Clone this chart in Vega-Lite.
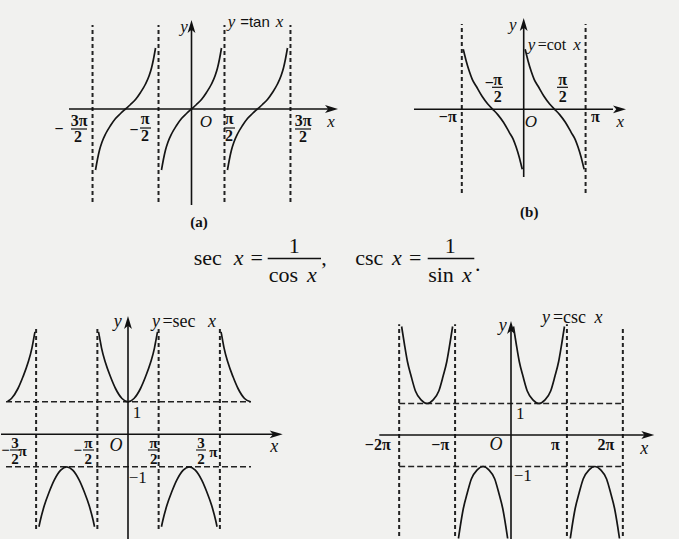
{
"$schema": "https://vega.github.io/schema/vega-lite/v6.json",
"background": "#f1f1ef",
"padding": 0,
"spacing": 0,
"config": {"view": {"stroke": null}},
"datasets": {
"a_seg": [
{"x":-5.833,"y":0,"x2":6.69,"y2":0,"k":"axis"},
{"x":0,"y":-7.385,"x2":0,"y2":6.385,"k":"axis"},
{"x":-4.7124,"y":-7.154,"x2":-4.7124,"y2":6.462,"k":"guide"},
{"x":-1.5708,"y":-7.154,"x2":-1.5708,"y2":6.462,"k":"guide"},
{"x":1.5708,"y":-7.154,"x2":1.5708,"y2":6.462,"k":"guide"},
{"x":4.7124,"y":-7.154,"x2":4.7124,"y2":6.462,"k":"guide"},
{"x":-5.738,"y":-1.538,"x2":-4.976,"y2":-1.538,"k":"frac"},
{"x":-2.452,"y":-1.462,"x2":-1.929,"y2":-1.462,"k":"frac"},
{"x":1.548,"y":-1.462,"x2":2.071,"y2":-1.462,"k":"frac"},
{"x":4.929,"y":-1.538,"x2":5.690,"y2":-1.538,"k":"frac"}
],
"a_arrow": [{"x":6.667,"y":0,"dir":"right"},{"x":0,"y":6.346,"dir":"up"}],
"a_curve": [
{"b":"C","x":-1.4286,"y":-4.6923},{"b":"C","x":-1.3333,"y":-3.8462},{"b":"C","x":-1.2381,"y":-3.1538},{"b":"C","x":-1.1190,"y":-2.5385},{"b":"C","x":-0.9524,"y":-1.9231},{"b":"C","x":-0.7143,"y":-1.2692},{"b":"C","x":-0.4762,"y":-0.7308},{"b":"C","x":-0.2381,"y":-0.3462},{"b":"C","x":0,"y":0},{"b":"C","x":0.2381,"y":0.3462},{"b":"C","x":0.4762,"y":0.7308},{"b":"C","x":0.7143,"y":1.2692},{"b":"C","x":0.9524,"y":1.9231},{"b":"C","x":1.1190,"y":2.5385},{"b":"C","x":1.2381,"y":3.1538},{"b":"C","x":1.3333,"y":3.8462},{"b":"C","x":1.4286,"y":4.6923},
{"b":"L","x":-4.5702,"y":-4.6923},{"b":"L","x":-4.4749,"y":-3.8462},{"b":"L","x":-4.3797,"y":-3.1538},{"b":"L","x":-4.2606,"y":-2.5385},{"b":"L","x":-4.0940,"y":-1.9231},{"b":"L","x":-3.8559,"y":-1.2692},{"b":"L","x":-3.6178,"y":-0.7308},{"b":"L","x":-3.3797,"y":-0.3462},{"b":"L","x":-3.1416,"y":0},{"b":"L","x":-2.9035,"y":0.3462},{"b":"L","x":-2.6654,"y":0.7308},{"b":"L","x":-2.4273,"y":1.2692},{"b":"L","x":-2.1892,"y":1.9231},{"b":"L","x":-2.0226,"y":2.5385},{"b":"L","x":-1.9035,"y":3.1538},{"b":"L","x":-1.8083,"y":3.8462},{"b":"L","x":-1.7130,"y":4.6923},
{"b":"R","x":1.7130,"y":-4.6923},{"b":"R","x":1.8083,"y":-3.8462},{"b":"R","x":1.9035,"y":-3.1538},{"b":"R","x":2.0226,"y":-2.5385},{"b":"R","x":2.1892,"y":-1.9231},{"b":"R","x":2.4273,"y":-1.2692},{"b":"R","x":2.6654,"y":-0.7308},{"b":"R","x":2.9035,"y":-0.3462},{"b":"R","x":3.1416,"y":0},{"b":"R","x":3.3797,"y":0.3462},{"b":"R","x":3.6178,"y":0.7308},{"b":"R","x":3.8559,"y":1.2692},{"b":"R","x":4.0940,"y":1.9231},{"b":"R","x":4.2606,"y":2.5385},{"b":"R","x":4.3797,"y":3.1538},{"b":"R","x":4.4749,"y":3.8462},{"b":"R","x":4.5702,"y":4.6923}
],
"a_text": [
{"role":"var","t":"y","x":-0.357,"y":6.308},
{"role":"var","t":"O","x":0.690,"y":-1.0},
{"role":"var","t":"x","x":6.643,"y":-1.0},
{"role":"var","t":"y","x":1.905,"y":6.692},
{"role":"var","t":"x","x":4.190,"y":6.692},
{"role":"fn","t":"=tan","x":3.024,"y":6.692},
{"role":"tick","t":"−","x":-6.310,"y":-1.538},
{"role":"tick","t":"3π","x":-5.357,"y":-0.923},
{"role":"tick","t":"2","x":-5.405,"y":-2.154},
{"role":"tick","t":"−","x":-2.738,"y":-1.615},
{"role":"tick","t":"π","x":-2.214,"y":-0.769},
{"role":"tick","t":"2","x":-2.214,"y":-2.077},
{"role":"tick","t":"π","x":1.786,"y":-0.769},
{"role":"tick","t":"2","x":1.786,"y":-2.077},
{"role":"tick","t":"3π","x":5.310,"y":-0.923},
{"role":"tick","t":"2","x":5.310,"y":-2.154},
{"role":"cap","t":"(a)","x":0.357,"y":-8.692}
],
"b_seg": [
{"x":-5.569,"y":0,"x2":4.533,"y2":0,"k":"axis"},
{"x":0,"y":-5.642,"x2":0,"y2":7.025,"k":"axis"},
{"x":-3.1416,"y":-6.975,"x2":-3.1416,"y2":7.108,"k":"guide"},
{"x":3.1416,"y":-6.975,"x2":3.1416,"y2":7.108,"k":"guide"},
{"x":-1.609,"y":1.833,"x2":-1.051,"y2":1.833,"k":"frac"},
{"x":1.690,"y":1.833,"x2":2.249,"y2":1.833,"k":"frac"}
],
"b_arrow": [{"x":4.863,"y":0,"dir":"right"},{"x":0,"y":7.067,"dir":"up"}],
"b_curve": [
{"b":"R","x":0.0733,"y":5.0},{"b":"R","x":0.1241,"y":4.6667},{"b":"R","x":0.2256,"y":4.0},{"b":"R","x":0.3881,"y":3.125},{"b":"R","x":0.5302,"y":2.5},{"b":"R","x":0.7332,"y":1.9167},{"b":"R","x":1.0277,"y":1.0833},{"b":"R","x":1.3170,"y":0.4417},{"b":"R","x":1.5708,"y":0},{"b":"R","x":1.8246,"y":-0.4417},{"b":"R","x":2.1139,"y":-1.0833},{"b":"R","x":2.4084,"y":-1.9167},{"b":"R","x":2.6114,"y":-2.5},{"b":"R","x":2.7535,"y":-3.125},{"b":"R","x":2.9160,"y":-4.0},{"b":"R","x":3.0175,"y":-4.6667},{"b":"R","x":3.0683,"y":-5.0},
{"b":"L","x":-3.0683,"y":5.0},{"b":"L","x":-3.0175,"y":4.6667},{"b":"L","x":-2.9160,"y":4.0},{"b":"L","x":-2.7535,"y":3.125},{"b":"L","x":-2.6114,"y":2.5},{"b":"L","x":-2.4084,"y":1.9167},{"b":"L","x":-2.1139,"y":1.0833},{"b":"L","x":-1.8246,"y":0.4417},{"b":"L","x":-1.5708,"y":0},{"b":"L","x":-1.3170,"y":-0.4417},{"b":"L","x":-1.0277,"y":-1.0833},{"b":"L","x":-0.7332,"y":-1.9167},{"b":"L","x":-0.5302,"y":-2.5},{"b":"L","x":-0.3881,"y":-3.125},{"b":"L","x":-0.2256,"y":-4.0},{"b":"L","x":-0.1241,"y":-4.6667},{"b":"L","x":-0.0733,"y":-5.0}
],
"b_text": [
{"role":"var","t":"y","x":-0.558,"y":7.025},
{"role":"var","t":"O","x":0.371,"y":-1.033},
{"role":"var","t":"x","x":4.904,"y":-1.033},
{"role":"var","t":"y","x":0.396,"y":5.358},
{"role":"var","t":"x","x":2.706,"y":5.358},
{"role":"fn","t":"=cot","x":1.437,"y":5.358},
{"role":"tick","t":"−","x":-1.746,"y":2.167},
{"role":"tick","t":"π","x":-1.320,"y":2.442},
{"role":"tick","t":"2","x":-1.320,"y":1.05},
{"role":"tick","t":"π","x":1.980,"y":2.442},
{"role":"tick","t":"2","x":1.980,"y":1.05},
{"role":"tick","t":"−π","x":-3.858,"y":-0.667},
{"role":"tick","t":"π","x":3.635,"y":-0.617},
{"role":"cap","t":"(b)","x":0.284,"y":-8.558}
],
"f_seg": [
{"x":266.7,"y":252.5,"x2":320,"y2":252.5},
{"x":426.7,"y":252.5,"x2":473.3,"y2":252.5}
],
"f_text": [
{"role":"rm","t":"sec","x":206.7,"y":258.5},
{"role":"var","t":"x","x":237.5,"y":258.5},
{"role":"rm","t":"=","x":255.8,"y":258.5},
{"role":"rm","t":"1","x":293.3,"y":247},
{"role":"rm","t":"cos","x":282.5,"y":275.5},
{"role":"var","t":"x","x":310.8,"y":275.5},
{"role":"rm","t":",","x":323,"y":259},
{"role":"rm","t":"csc","x":368.3,"y":258.5},
{"role":"var","t":"x","x":395.8,"y":258.5},
{"role":"rm","t":"=","x":414.2,"y":258.5},
{"role":"rm","t":"1","x":449.2,"y":247},
{"role":"rm","t":"sin","x":440,"y":275.5},
{"role":"var","t":"x","x":465.8,"y":275.5},
{"role":"rm","t":".","x":476.7,"y":265}
],
"c_seg": [
{"x":-6.5128,"y":0,"x2":7.641,"y2":0,"k":"axis"},
{"x":0,"y":-3.375,"x2":0,"y2":3.455,"k":"axis"},
{"x":-4.7124,"y":-2.914,"x2":-4.7124,"y2":3.24,"k":"guide"},
{"x":-1.5708,"y":-2.914,"x2":-1.5708,"y2":3.24,"k":"guide"},
{"x":1.5708,"y":-2.914,"x2":1.5708,"y2":3.24,"k":"guide"},
{"x":4.7124,"y":-2.914,"x2":4.7124,"y2":3.24,"k":"guide"},
{"x":-6.256,"y":1,"x2":6.308,"y2":1,"k":"hguide"},
{"x":-6.256,"y":-1,"x2":6.308,"y2":-1,"k":"hguide"},
{"x":-6.051,"y":-0.483,"x2":-5.538,"y2":-0.483,"k":"frac"},
{"x":-2.308,"y":-0.483,"x2":-1.744,"y2":-0.483,"k":"frac"},
{"x":1.026,"y":-0.483,"x2":1.590,"y2":-0.483,"k":"frac"},
{"x":3.487,"y":-0.483,"x2":4.0,"y2":-0.483,"k":"frac"}
],
"c_arrow": [{"x":7.6,"y":0,"dir":"right"},{"x":0,"y":3.44,"dir":"up"}],
"c_curve": [
{"b":"P0","x":-1.5128,"y":3.1538},{"b":"P0","x":-1.4359,"y":2.9077},{"b":"P0","x":-1.3590,"y":2.6615},{"b":"P0","x":-1.1538,"y":2.2},{"b":"P0","x":-0.8974,"y":1.7692},{"b":"P0","x":-0.6410,"y":1.4092},{"b":"P0","x":-0.3077,"y":1.1015},{"b":"P0","x":0,"y":1},{"b":"P0","x":0.3077,"y":1.1015},{"b":"P0","x":0.6410,"y":1.4092},{"b":"P0","x":0.8974,"y":1.7692},{"b":"P0","x":1.1538,"y":2.2},{"b":"P0","x":1.3590,"y":2.6615},{"b":"P0","x":1.4359,"y":2.9077},{"b":"P0","x":1.5128,"y":3.1538},
{"b":"N1","x":-4.5672,"y":-2.8462},{"b":"N1","x":-4.5006,"y":-2.6615},{"b":"N1","x":-4.2954,"y":-2.2},{"b":"N1","x":-4.0390,"y":-1.7692},{"b":"N1","x":-3.7826,"y":-1.4092},{"b":"N1","x":-3.4493,"y":-1.1015},{"b":"N1","x":-3.1416,"y":-1},{"b":"N1","x":-2.8339,"y":-1.1015},{"b":"N1","x":-2.5006,"y":-1.4092},{"b":"N1","x":-2.2442,"y":-1.7692},{"b":"N1","x":-1.9878,"y":-2.2},{"b":"N1","x":-1.7826,"y":-2.6615},{"b":"N1","x":-1.7160,"y":-2.8462},
{"b":"N2","x":1.7160,"y":-2.8462},{"b":"N2","x":1.7826,"y":-2.6615},{"b":"N2","x":1.9878,"y":-2.2},{"b":"N2","x":2.2442,"y":-1.7692},{"b":"N2","x":2.5006,"y":-1.4092},{"b":"N2","x":2.8339,"y":-1.1015},{"b":"N2","x":3.1416,"y":-1},{"b":"N2","x":3.4493,"y":-1.1015},{"b":"N2","x":3.7826,"y":-1.4092},{"b":"N2","x":4.0390,"y":-1.7692},{"b":"N2","x":4.2954,"y":-2.2},{"b":"N2","x":4.5006,"y":-2.6615},{"b":"N2","x":4.5672,"y":-2.8462},
{"b":"PL","x":-6.1702,"y":1.014},{"b":"PL","x":-5.9755,"y":1.1015},{"b":"PL","x":-5.6422,"y":1.4092},{"b":"PL","x":-5.3858,"y":1.7692},{"b":"PL","x":-5.1294,"y":2.2},{"b":"PL","x":-4.9242,"y":2.6615},{"b":"PL","x":-4.8473,"y":2.9077},{"b":"PL","x":-4.7704,"y":3.1538},
{"b":"PR","x":4.7704,"y":3.1538},{"b":"PR","x":4.8473,"y":2.9077},{"b":"PR","x":4.9242,"y":2.6615},{"b":"PR","x":5.1294,"y":2.2},{"b":"PR","x":5.3858,"y":1.7692},{"b":"PR","x":5.6422,"y":1.4092},{"b":"PR","x":5.9755,"y":1.1015},{"b":"PR","x":6.2832,"y":1}
],
"c_text": [
{"role":"var","t":"y","x":-0.528,"y":3.455},
{"role":"var","t":"O","x":-0.615,"y":-0.36},
{"role":"var","t":"x","x":7.503,"y":-0.382},
{"role":"var","t":"y","x":1.436,"y":3.455},
{"role":"var","t":"x","x":4.308,"y":3.455},
{"role":"fn","t":"=sec","x":2.615,"y":3.455},
{"role":"tick","t":"−","x":-6.282,"y":-0.483},
{"role":"tick","t":"3","x":-5.795,"y":-0.258},
{"role":"tick","t":"2","x":-5.795,"y":-0.769},
{"role":"tick","t":"π","x":-5.4,"y":-0.514},
{"role":"tick","t":"−","x":-2.579,"y":-0.483},
{"role":"tick","t":"π","x":-2.036,"y":-0.258},
{"role":"tick","t":"2","x":-2.036,"y":-0.769},
{"role":"tick","t":"π","x":1.318,"y":-0.258},
{"role":"tick","t":"2","x":1.318,"y":-0.769},
{"role":"tick","t":"3","x":3.744,"y":-0.258},
{"role":"tick","t":"2","x":3.744,"y":-0.769},
{"role":"tick","t":"π","x":4.374,"y":-0.545},
{"role":"unit","t":"1","x":0.462,"y":0.665},
{"role":"unit","t":"−1","x":0.497,"y":-1.335}
],
"d_seg": [
{"x":-7.399,"y":0,"x2":7.697,"y2":0,"k":"axis"},
{"x":0,"y":-3.46,"x2":0,"y2":3.429,"k":"axis"},
{"x":-6.2832,"y":-3.429,"x2":-6.2832,"y2":3.514,"k":"guide"},
{"x":-3.1416,"y":-3.429,"x2":-3.1416,"y2":3.514,"k":"guide"},
{"x":3.1416,"y":-3.429,"x2":3.1416,"y2":3.514,"k":"guide"},
{"x":6.2832,"y":-3.429,"x2":6.2832,"y2":3.4,"k":"guide"},
{"x":-6.2832,"y":1,"x2":6.2832,"y2":1,"k":"hguide"},
{"x":-6.2832,"y":-1,"x2":6.2832,"y2":-1,"k":"hguide"}
],
"d_arrow": [{"x":7.685,"y":0,"dir":"right"},{"x":0,"y":3.413,"dir":"up"}],
"d_curve": [
{"b":"U1","x":-6.1450,"y":3.4444},{"b":"U1","x":-5.9933,"y":2.9048},{"b":"U1","x":-5.8191,"y":2.3333},{"b":"U1","x":-5.6057,"y":1.8571},{"b":"U1","x":-5.3697,"y":1.3968},{"b":"U1","x":-5.0382,"y":1.1079},{"b":"U1","x":-4.7124,"y":1},{"b":"U1","x":-4.3866,"y":1.1079},{"b":"U1","x":-4.0551,"y":1.3968},{"b":"U1","x":-3.8191,"y":1.8571},{"b":"U1","x":-3.6057,"y":2.3333},{"b":"U1","x":-3.4315,"y":2.9048},{"b":"U1","x":-3.2798,"y":3.4444},
{"b":"U2","x":0.1382,"y":3.4444},{"b":"U2","x":0.2899,"y":2.9048},{"b":"U2","x":0.4641,"y":2.3333},{"b":"U2","x":0.6775,"y":1.8571},{"b":"U2","x":0.9135,"y":1.3968},{"b":"U2","x":1.2450,"y":1.1079},{"b":"U2","x":1.5708,"y":1},{"b":"U2","x":1.8966,"y":1.1079},{"b":"U2","x":2.2281,"y":1.3968},{"b":"U2","x":2.4641,"y":1.8571},{"b":"U2","x":2.6775,"y":2.3333},{"b":"U2","x":2.8517,"y":2.9048},{"b":"U2","x":3.0034,"y":3.4444},
{"b":"L1","x":-2.9528,"y":-3.2857},{"b":"L1","x":-2.8517,"y":-2.9048},{"b":"L1","x":-2.6775,"y":-2.3333},{"b":"L1","x":-2.4641,"y":-1.8571},{"b":"L1","x":-2.2281,"y":-1.3968},{"b":"L1","x":-1.8966,"y":-1.1079},{"b":"L1","x":-1.5708,"y":-1},{"b":"L1","x":-1.2450,"y":-1.1079},{"b":"L1","x":-0.9135,"y":-1.3968},{"b":"L1","x":-0.6775,"y":-1.8571},{"b":"L1","x":-0.4641,"y":-2.3333},{"b":"L1","x":-0.2899,"y":-2.9048},{"b":"L1","x":-0.1888,"y":-3.2857},
{"b":"L2","x":3.3304,"y":-3.2857},{"b":"L2","x":3.4315,"y":-2.9048},{"b":"L2","x":3.6057,"y":-2.3333},{"b":"L2","x":3.8191,"y":-1.8571},{"b":"L2","x":4.0551,"y":-1.3968},{"b":"L2","x":4.3866,"y":-1.1079},{"b":"L2","x":4.7124,"y":-1},{"b":"L2","x":5.0382,"y":-1.1079},{"b":"L2","x":5.3697,"y":-1.3968},{"b":"L2","x":5.6057,"y":-1.8571},{"b":"L2","x":5.8191,"y":-2.3333},{"b":"L2","x":5.9933,"y":-2.9048},{"b":"L2","x":6.0944,"y":-3.2857}
],
"d_text": [
{"role":"var","t":"y","x":-0.466,"y":3.46},
{"role":"var","t":"O","x":-0.843,"y":-0.327},
{"role":"var","t":"x","x":7.489,"y":-0.454},
{"role":"var","t":"y","x":1.966,"y":3.724},
{"role":"var","t":"x","x":4.916,"y":3.724},
{"role":"fn","t":"=csc","x":3.287,"y":3.724},
{"role":"tick","t":"−2π","x":-7.489,"y":-0.327},
{"role":"tick","t":"−π","x":-3.972,"y":-0.327},
{"role":"tick","t":"π","x":2.489,"y":-0.327},
{"role":"tick","t":"2π","x":5.337,"y":-0.327},
{"role":"unit","t":"1","x":0.522,"y":0.657},
{"role":"unit","t":"−1","x":0.657,"y":-1.302}
]
},
"vconcat": [
{"hconcat": [
{"width": 380, "height": 235,
 "encoding": {
  "x": {"field":"x","type":"quantitative","scale":{"domain":[-9.0714,9.0238],"nice":false,"zero":false},"axis":null},
  "y": {"field":"y","type":"quantitative","scale":{"domain":[-9.6923,8.3846],"nice":false,"zero":false},"axis":null}},
 "layer": [
  {"data":{"name":"a_seg"},"transform":[{"filter":"datum.k=='guide'"}],"mark":{"type":"rule","strokeDash":[4,3],"strokeWidth":2,"color":"#222"},"encoding":{"x2":{"field":"x2"},"y2":{"field":"y2"}}},
  {"data":{"name":"a_seg"},"transform":[{"filter":"datum.k=='axis'"}],"mark":{"type":"rule","strokeWidth":1.6,"color":"#111"},"encoding":{"x2":{"field":"x2"},"y2":{"field":"y2"}}},
  {"data":{"name":"a_seg"},"transform":[{"filter":"datum.k=='frac'"}],"mark":{"type":"rule","strokeWidth":1.2,"color":"#111"},"encoding":{"x2":{"field":"x2"},"y2":{"field":"y2"}}},
  {"data":{"name":"a_arrow"},"mark":{"type":"point","filled":true,"size":169,"color":"#111","opacity":1},"encoding":{"shape":{"field":"dir","type":"nominal","scale":{"domain":["right","up"],"range":["M1,0L-1,-0.6L-0.5,0L-1,0.6Z","M0,-1L-0.6,1L0,0.5L0.6,1Z"]},"legend":null}}},
  {"data":{"name":"a_curve"},"mark":{"type":"line","interpolate":"monotone","strokeWidth":1.7,"color":"#151515"},"encoding":{"detail":{"field":"b"}}},
  {"data":{"name":"a_text"},"transform":[{"filter":"datum.role=='var'"}],"mark":{"type":"text","font":"Liberation Serif","fontStyle":"italic","fontSize":17,"color":"#111","baseline":"middle","align":"center"},"encoding":{"text":{"field":"t"}}},
  {"data":{"name":"a_text"},"transform":[{"filter":"datum.role=='fn'"}],"mark":{"type":"text","font":"Liberation Sans","fontSize":15,"color":"#111","baseline":"middle","align":"center"},"encoding":{"text":{"field":"t"}}},
  {"data":{"name":"a_text"},"transform":[{"filter":"datum.role=='tick'"}],"mark":{"type":"text","font":"Liberation Serif","fontWeight":"bold","fontSize":16,"color":"#111","baseline":"middle","align":"center"},"encoding":{"text":{"field":"t"}}},
  {"data":{"name":"a_text"},"transform":[{"filter":"datum.role=='cap'"}],"mark":{"type":"text","font":"Liberation Serif","fontWeight":"bold","fontSize":15,"color":"#111","baseline":"middle","align":"center"},"encoding":{"text":{"field":"t"}}}
 ]},
{"width": 299, "height": 235,
 "encoding": {
  "x": {"field":"x","type":"quantitative","scale":{"domain":[-7.2437,7.934],"nice":false,"zero":false},"axis":null},
  "y": {"field":"y","type":"quantitative","scale":{"domain":[-10.475,9.108],"nice":false,"zero":false},"axis":null}},
 "layer": [
  {"data":{"name":"b_seg"},"transform":[{"filter":"datum.k=='guide'"}],"mark":{"type":"rule","strokeDash":[4,3],"strokeWidth":2,"color":"#222"},"encoding":{"x2":{"field":"x2"},"y2":{"field":"y2"}}},
  {"data":{"name":"b_seg"},"transform":[{"filter":"datum.k=='axis'"}],"mark":{"type":"rule","strokeWidth":1.6,"color":"#111"},"encoding":{"x2":{"field":"x2"},"y2":{"field":"y2"}}},
  {"data":{"name":"b_seg"},"transform":[{"filter":"datum.k=='frac'"}],"mark":{"type":"rule","strokeWidth":1.2,"color":"#111"},"encoding":{"x2":{"field":"x2"},"y2":{"field":"y2"}}},
  {"data":{"name":"b_arrow"},"mark":{"type":"point","filled":true,"size":169,"color":"#111","opacity":1},"encoding":{"shape":{"field":"dir","type":"nominal","scale":{"domain":["right","up"],"range":["M1,0L-1,-0.6L-0.5,0L-1,0.6Z","M0,-1L-0.6,1L0,0.5L0.6,1Z"]},"legend":null}}},
  {"data":{"name":"b_curve"},"mark":{"type":"line","interpolate":"monotone","strokeWidth":1.7,"color":"#151515"},"encoding":{"detail":{"field":"b"}}},
  {"data":{"name":"b_text"},"transform":[{"filter":"datum.role=='var'"}],"mark":{"type":"text","font":"Liberation Serif","fontStyle":"italic","fontSize":17,"color":"#111","baseline":"middle","align":"center"},"encoding":{"text":{"field":"t"}}},
  {"data":{"name":"b_text"},"transform":[{"filter":"datum.role=='fn'"}],"mark":{"type":"text","font":"Liberation Serif","fontSize":16,"color":"#111","baseline":"middle","align":"center"},"encoding":{"text":{"field":"t"}}},
  {"data":{"name":"b_text"},"transform":[{"filter":"datum.role=='tick'"}],"mark":{"type":"text","font":"Liberation Serif","fontWeight":"bold","fontSize":16,"color":"#111","baseline":"middle","align":"center"},"encoding":{"text":{"field":"t"}}},
  {"data":{"name":"b_text"},"transform":[{"filter":"datum.role=='cap'"}],"mark":{"type":"text","font":"Liberation Serif","fontWeight":"bold","fontSize":15,"color":"#111","baseline":"middle","align":"center"},"encoding":{"text":{"field":"t"}}}
 ]}
], "spacing": 0},
{"width": 679, "height": 55,
 "encoding": {
  "x": {"field":"x","type":"quantitative","scale":{"domain":[0,679],"nice":false,"zero":false},"axis":null},
  "y": {"field":"y","type":"quantitative","scale":{"domain":[235,290],"reverse":true,"nice":false,"zero":false},"axis":null}},
 "layer": [
  {"data":{"name":"f_seg"},"mark":{"type":"rule","strokeWidth":1.3,"color":"#111"},"encoding":{"x2":{"field":"x2"},"y2":{"field":"y2"}}},
  {"data":{"name":"f_text"},"transform":[{"filter":"datum.role=='rm'"}],"mark":{"type":"text","font":"Liberation Serif","fontSize":22,"color":"#111","baseline":"alphabetic","align":"center"},"encoding":{"text":{"field":"t"}}},
  {"data":{"name":"f_text"},"transform":[{"filter":"datum.role=='var'"}],"mark":{"type":"text","font":"Liberation Serif","fontStyle":"italic","fontSize":22,"color":"#111","baseline":"alphabetic","align":"center"},"encoding":{"text":{"field":"t"}}}
 ]},
{"hconcat": [
{"width": 340, "height": 249,
 "encoding": {
  "x": {"field":"x","type":"quantitative","scale":{"domain":[-6.5128,10.9231],"nice":false,"zero":false},"axis":null},
  "y": {"field":"y","type":"quantitative","scale":{"domain":[-3.4062,4.2554],"nice":false,"zero":false},"axis":null}},
 "layer": [
  {"data":{"name":"c_seg"},"transform":[{"filter":"datum.k=='guide'"}],"mark":{"type":"rule","strokeDash":[4,3],"strokeWidth":2,"color":"#222"},"encoding":{"x2":{"field":"x2"},"y2":{"field":"y2"}}},
  {"data":{"name":"c_seg"},"transform":[{"filter":"datum.k=='hguide'"}],"mark":{"type":"rule","strokeDash":[6,3],"strokeWidth":1.5,"color":"#222"},"encoding":{"x2":{"field":"x2"},"y2":{"field":"y2"}}},
  {"data":{"name":"c_seg"},"transform":[{"filter":"datum.k=='axis'"}],"mark":{"type":"rule","strokeWidth":1.6,"color":"#111"},"encoding":{"x2":{"field":"x2"},"y2":{"field":"y2"}}},
  {"data":{"name":"c_seg"},"transform":[{"filter":"datum.k=='frac'"}],"mark":{"type":"rule","strokeWidth":1.1,"color":"#111"},"encoding":{"x2":{"field":"x2"},"y2":{"field":"y2"}}},
  {"data":{"name":"c_arrow"},"mark":{"type":"point","filled":true,"size":169,"color":"#111","opacity":1},"encoding":{"shape":{"field":"dir","type":"nominal","scale":{"domain":["right","up"],"range":["M1,0L-1,-0.6L-0.5,0L-1,0.6Z","M0,-1L-0.6,1L0,0.5L0.6,1Z"]},"legend":null}}},
  {"data":{"name":"c_curve"},"mark":{"type":"line","interpolate":"monotone","strokeWidth":1.7,"color":"#151515"},"encoding":{"detail":{"field":"b"}}},
  {"data":{"name":"c_text"},"transform":[{"filter":"datum.role=='var'"}],"mark":{"type":"text","font":"Liberation Serif","fontStyle":"italic","fontSize":18,"color":"#111","baseline":"middle","align":"center"},"encoding":{"text":{"field":"t"}}},
  {"data":{"name":"c_text"},"transform":[{"filter":"datum.role=='fn'"}],"mark":{"type":"text","font":"Liberation Serif","fontSize":18,"color":"#111","baseline":"middle","align":"center"},"encoding":{"text":{"field":"t"}}},
  {"data":{"name":"c_text"},"transform":[{"filter":"datum.role=='tick'"}],"mark":{"type":"text","font":"Liberation Serif","fontWeight":"bold","fontSize":15,"color":"#111","baseline":"middle","align":"center"},"encoding":{"text":{"field":"t"}}},
  {"data":{"name":"c_text"},"transform":[{"filter":"datum.role=='unit'"}],"mark":{"type":"text","font":"Liberation Serif","fontSize":17,"color":"#111","baseline":"middle","align":"center"},"encoding":{"text":{"field":"t"}}}
 ]},
{"width": 339, "height": 249,
 "encoding": {
  "x": {"field":"x","type":"quantitative","scale":{"domain":[-9.5506,9.4944],"nice":false,"zero":false},"axis":null},
  "y": {"field":"y","type":"quantitative","scale":{"domain":[-3.4921,4.4127],"nice":false,"zero":false},"axis":null}},
 "layer": [
  {"data":{"name":"d_seg"},"transform":[{"filter":"datum.k=='guide'"}],"mark":{"type":"rule","strokeDash":[4,3],"strokeWidth":2,"color":"#222"},"encoding":{"x2":{"field":"x2"},"y2":{"field":"y2"}}},
  {"data":{"name":"d_seg"},"transform":[{"filter":"datum.k=='hguide'"}],"mark":{"type":"rule","strokeDash":[6,3],"strokeWidth":1.5,"color":"#222"},"encoding":{"x2":{"field":"x2"},"y2":{"field":"y2"}}},
  {"data":{"name":"d_seg"},"transform":[{"filter":"datum.k=='axis'"}],"mark":{"type":"rule","strokeWidth":1.6,"color":"#111"},"encoding":{"x2":{"field":"x2"},"y2":{"field":"y2"}}},
  {"data":{"name":"d_arrow"},"mark":{"type":"point","filled":true,"size":169,"color":"#111","opacity":1},"encoding":{"shape":{"field":"dir","type":"nominal","scale":{"domain":["right","up"],"range":["M1,0L-1,-0.6L-0.5,0L-1,0.6Z","M0,-1L-0.6,1L0,0.5L0.6,1Z"]},"legend":null}}},
  {"data":{"name":"d_curve"},"mark":{"type":"line","interpolate":"monotone","strokeWidth":1.7,"color":"#151515"},"encoding":{"detail":{"field":"b"}}},
  {"data":{"name":"d_text"},"transform":[{"filter":"datum.role=='var'"}],"mark":{"type":"text","font":"Liberation Serif","fontStyle":"italic","fontSize":18,"color":"#111","baseline":"middle","align":"center"},"encoding":{"text":{"field":"t"}}},
  {"data":{"name":"d_text"},"transform":[{"filter":"datum.role=='fn'"}],"mark":{"type":"text","font":"Liberation Serif","fontSize":18,"color":"#111","baseline":"middle","align":"center"},"encoding":{"text":{"field":"t"}}},
  {"data":{"name":"d_text"},"transform":[{"filter":"datum.role=='tick'"}],"mark":{"type":"text","font":"Liberation Serif","fontWeight":"bold","fontSize":16,"color":"#111","baseline":"middle","align":"center"},"encoding":{"text":{"field":"t"}}},
  {"data":{"name":"d_text"},"transform":[{"filter":"datum.role=='unit'"}],"mark":{"type":"text","font":"Liberation Serif","fontSize":17,"color":"#111","baseline":"middle","align":"center"},"encoding":{"text":{"field":"t"}}}
 ]}
], "spacing": 0}
]
}
